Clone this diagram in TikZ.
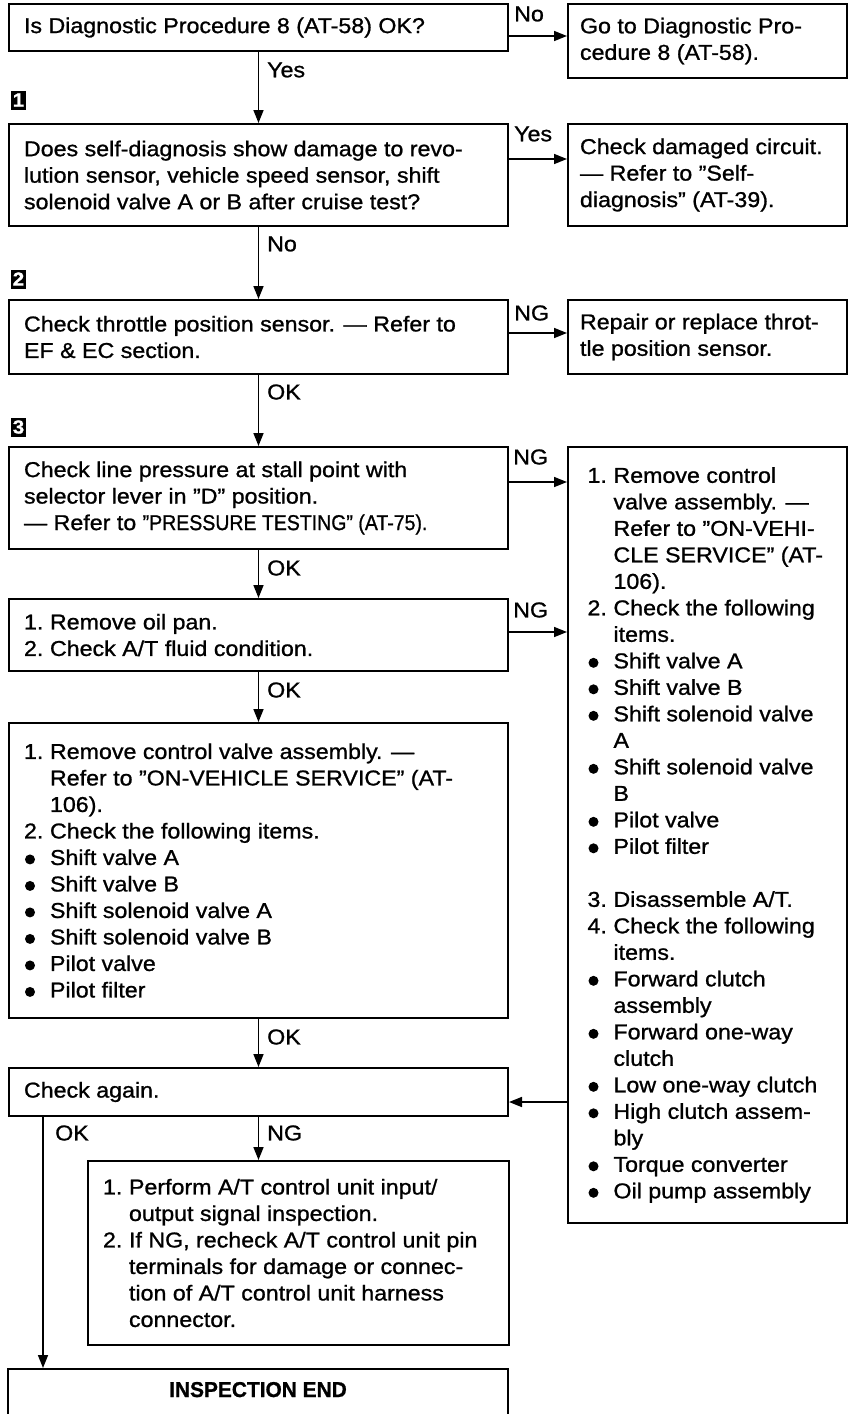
\documentclass[tikz,border=0pt]{standalone}
\usepackage{fontspec}
\setmainfont{Liberation Sans}[FakeStretch=1.08,FakeBold=1.0]
\usetikzlibrary{arrows.meta,calc}
\newcommand{\bodyf}{\fontsize{21.5pt}{26.5pt}\selectfont}
\newlength{\lo}
\setlength{\lo}{0pt}
\newcommand{\nI}[1]{\hspace*{\lo}\makebox[26pt][l]{#1}}
\newcommand{\cI}{\hspace*{\lo}\hspace*{26pt}}
\newcommand{\bI}{\hspace*{\lo}\makebox[26pt][l]{\hspace*{1pt}\tikz[baseline={(0pt,-5.5pt)}]\fill (0pt,0pt) circle[radius=5pt];}}
\newcommand{\fw}[2]{\makebox[#1][l]{#2}}
\newcommand{\cmp}[2]{\scalebox{#1}[1]{#2}}
\tikzset{
  bx/.style={draw, line width=2pt, anchor=north west, align=left, inner xsep=15pt, inner ysep=0pt, font=\bodyf},
  rbx/.style={bx, inner xsep=12pt},
  lbl/.style={anchor=west, inner sep=0pt, font=\bodyf},
  mk/.style={fill=black, text=white, font=\fontsize{19pt}{19pt}\selectfont\bfseries, minimum width=15pt, minimum height=19pt, inner sep=0pt},
  arr/.style={line width=1.6pt, -{Triangle[length=13pt,width=10pt]}},
}
\begin{document}
\begin{tikzpicture}[x=1pt,y=-1pt]
\useasboundingbox (0,0) rectangle (854,1414);
\fill[white] (0,0) rectangle (854,1414);

% left column
\node[bx, minimum height=47pt] (A) at (8,3) {\fw{469pt}{Is Diagnostic Procedure 8 (AT-58) OK?}};
\node[bx, minimum height=102pt] (C) at (8,123) {\fw{469pt}{Does self-diagnosis show damage to revo-}\\lution sensor, vehicle speed sensor, shift\\solenoid valve A or B after cruise test?};
\node[bx, minimum height=74pt] (E) at (8,299) {\fw{469pt}{Check throttle position sensor. — Refer to}\\EF \& EC section.};
\node[bx, minimum height=102pt] (G) at (8,446) {\fw{469pt}{Check line pressure at stall point with}\\selector lever in ''D'' position.\\— Refer to \cmp{0.84}{''PRESSURE TESTING'' (AT-75).}};
\node[bx, minimum height=72pt] (I) at (8,598) {\fw{469pt}{\nI{1.}Remove oil pan.}\\\nI{2.}Check A/T fluid condition.};
\node[bx, minimum height=295pt] (J) at (8,722) {\fw{469pt}{\nI{1.}Remove control valve assembly. —}\\
\cI Refer to ''ON-VEHICLE SERVICE'' (AT-\\
\cI 106).\\
\nI{2.}Check the following items.\\
\bI Shift valve A\\
\bI Shift valve B\\
\bI Shift solenoid valve A\\
\bI Shift solenoid valve B\\
\bI Pilot valve\\
\bI Pilot filter};
\node[bx, minimum height=48pt] (K) at (8,1067) {\fw{469pt}{Check again.}};
\node[bx, minimum height=184pt] (L) at (87,1160) {\fw{391pt}{\nI{1.}Perform A/T control unit input/}\\
\cI output signal inspection.\\
\nI{2.}If NG, recheck A/T control unit pin\\
\cI terminals for damage or connec-\\
\cI tion of A/T control unit harness\\
\cI connector.};
\node[bx, anchor=north, align=center, inner ysep=12pt] (M) at (258,1368) {\fw{470pt}{\hfill\raisebox{0pt}[16pt][40pt]{\cmp{0.9}{\bfseries INSPECTION END}}\hfill}};

% right column
\node[rbx, minimum height=74pt] (B) at (567,3) {\fw{255pt}{Go to Diagnostic Pro-}\\cedure 8 (AT-58).};
\node[rbx, minimum height=102pt] (D) at (567,123) {\fw{255pt}{Check damaged circuit.}\\— Refer to ''Self-\\diagnosis'' (AT-39).};
\node[rbx, minimum height=74pt] (F) at (567,299) {\fw{255pt}{Repair or replace throt-}\\tle position sensor.};
\node[rbx, minimum height=776pt, inner xsep=11.5pt, execute at begin node={\setlength{\lo}{8pt}}] (H) at (567,446) {\fw{256pt}{\nI{1.}Remove control}\\
\cI valve assembly. —\\
\cI Refer to ''ON-VEHI-\\
\cI CLE SERVICE'' (AT-\\
\cI 106).\\
\nI{2.}Check the following\\
\cI items.\\
\bI Shift valve A\\
\bI Shift valve B\\
\bI Shift solenoid valve\\
\cI A\\
\bI Shift solenoid valve\\
\cI B\\
\bI Pilot valve\\
\bI Pilot filter\\[26.5pt]
\nI{3.}Disassemble A/T.\\
\nI{4.}Check the following\\
\cI items.\\
\bI Forward clutch\\
\cI assembly\\
\bI Forward one-way\\
\cI clutch\\
\bI Low one-way clutch\\
\bI High clutch assem-\\
\cI bly\\
\bI Torque converter\\
\bI Oil pump assembly};

% step markers
\node[mk] (m1) at (18.5,100) {1};
\node[mk] (m2) at (18.5,279) {2};
\node[mk] (m3) at (18.5,427) {3};

% vertical connectors
\draw[arr] (A.south) -- (C.north);
\draw[arr] (C.south) -- (E.north);
\draw[arr] (E.south) -- (G.north);
\draw[arr] (G.south) -- (I.north);
\draw[arr] (I.south) -- (J.north);
\draw[arr] (J.south) -- (K.north);
\draw[arr] (K.south) -- (K.south |- L.north);
\coordinate (k2) at ($(K.south west)+(35,0)$);
\draw[arr] (k2) -- (k2 |- M.north);

% horizontal connectors
\coordinate (a1) at ($(A.north east)+(0,33)$);
\draw[arr] (a1) -- (a1 -| B.west);
\coordinate (c1) at ($(C.north east)+(0,36)$);
\draw[arr] (c1) -- (c1 -| D.west);
\coordinate (e1) at ($(E.north east)+(0,34)$);
\draw[arr] (e1) -- (e1 -| F.west);
\coordinate (g1) at ($(G.north east)+(0,36)$);
\draw[arr] (g1) -- (g1 -| H.west);
\coordinate (i1) at ($(I.north east)+(0,34)$);
\draw[arr] (i1) -- (i1 -| H.west);
\coordinate (h1) at ($(K.north east)+(0,35)$);
\draw[arr] (h1 -| H.west) -- (h1);

% labels
\node[lbl] (lA) at (514,14) {No};
\node[lbl] (lAC) at (267,70) {Yes};
\node[lbl] (lC) at (514,134) {Yes};
\node[lbl] (lCE) at (267,244) {No};
\node[lbl] (lE) at (514,313) {NG};
\node[lbl] (lEG) at (267,392) {OK};
\node[lbl] (lG) at (513,457) {NG};
\node[lbl] (lGI) at (267,568) {OK};
\node[lbl] (lI) at (513,610) {NG};
\node[lbl] (lIJ) at (267,690) {OK};
\node[lbl] (lJK) at (267,1037) {OK};
\node[lbl] (lKM) at (55,1133) {OK};
\node[lbl] (lKL) at (267,1133) {NG};
\end{tikzpicture}
\end{document}
